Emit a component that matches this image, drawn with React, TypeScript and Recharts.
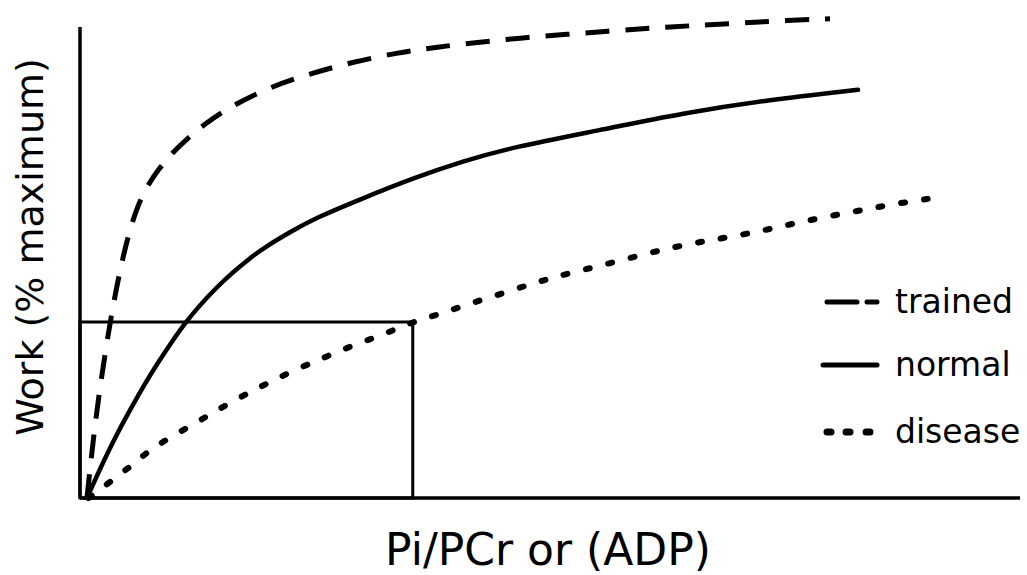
import { LineChart, Line, XAxis, YAxis, ReferenceArea, ReferenceLine, Legend, Label } from 'recharts';

// values: x in % of axis length, y in % of plot height
const trained = [
  { x: 0.74, y: 0 }, { x: 1.17, y: 7.8 }, { x: 1.6, y: 15 }, { x: 2.13, y: 22.8 },
  { x: 2.77, y: 30.9 }, { x: 3.4, y: 38.3 }, { x: 4.15, y: 45.9 }, { x: 5, y: 53.1 },
  { x: 5.96, y: 59.3 }, { x: 7.02, y: 63.8 }, { x: 8.3, y: 67.5 }, { x: 9.79, y: 71 },
  { x: 11.49, y: 74.1 }, { x: 13.3, y: 77 }, { x: 15.96, y: 80.5 }, { x: 20.21, y: 84.6 },
  { x: 24.79, y: 87.5 }, { x: 29.04, y: 89.7 }, { x: 33.72, y: 91.6 }, { x: 37.98, y: 92.8 },
  { x: 42.55, y: 93.8 }, { x: 47.13, y: 94.7 }, { x: 51.81, y: 95.4 }, { x: 56.38, y: 96.1 },
  { x: 60.96, y: 96.7 }, { x: 65.21, y: 97.2 }, { x: 69.89, y: 97.7 }, { x: 74.47, y: 98.2 },
  { x: 79.79, y: 98.6 },
];

const normal = [
  { x: 0.74, y: 0 }, { x: 2.13, y: 6 }, { x: 3.72, y: 12.4 }, { x: 5.32, y: 18.1 },
  { x: 6.91, y: 23.6 }, { x: 8.51, y: 28.5 }, { x: 9.79, y: 32.2 }, { x: 11.17, y: 36 },
  { x: 12.77, y: 39.7 }, { x: 14.36, y: 43 }, { x: 16.17, y: 46.3 }, { x: 18.09, y: 49.4 },
  { x: 19.89, y: 51.9 }, { x: 22.34, y: 54.7 }, { x: 24.79, y: 57.4 }, { x: 30.11, y: 61.7 },
  { x: 35.43, y: 65.8 }, { x: 40.74, y: 69.3 }, { x: 46.06, y: 72.2 }, { x: 55.32, y: 75.7 },
  { x: 64.15, y: 79.2 }, { x: 73.09, y: 81.9 }, { x: 82.77, y: 84 },
];

const disease = [
  { x: 0.9, y: 0 }, { x: 3.2, y: 3.3 }, { x: 5.3, y: 6.4 }, { x: 7.2, y: 9.5 },
  { x: 9.4, y: 12.3 }, { x: 11.9, y: 15 }, { x: 14.1, y: 17.5 }, { x: 16.5, y: 20.2 },
  { x: 18.9, y: 22.6 }, { x: 21.1, y: 24.7 }, { x: 23.6, y: 27 }, { x: 26.1, y: 29 },
  { x: 28.4, y: 30.9 }, { x: 30.9, y: 32.7 }, { x: 33.2, y: 34.4 }, { x: 35.4, y: 36.2 },
  { x: 38, y: 37.7 }, { x: 40.4, y: 39.3 }, { x: 45.4, y: 42.4 }, { x: 50, y: 45.3 },
  { x: 54.8, y: 47.5 }, { x: 62.4, y: 51.4 }, { x: 67.2, y: 53.1 }, { x: 72, y: 54.7 },
  { x: 76.6, y: 56.8 }, { x: 81.4, y: 58.6 }, { x: 86, y: 60.3 }, { x: 90.7, y: 61.7 },
];

// the box drawn up to where the disease curve meets it
const boxX = 35.4;
const boxY = 36.2;
const yAxisTop = 96.9;

const SERIES = [
  { name: 'trained', data: trained, width: 5, dash: '24 16', cap: 'butt' },
  { name: 'normal', data: normal, width: 4.5, dash: undefined, cap: 'round' },
  { name: 'disease', data: disease, width: 6, dash: '4 19', cap: 'round' },
];

const FONT = '"DejaVu Sans", sans-serif';

function SketchLegend() {
  return (
    <svg width={212} height={175} style={{ display: 'block' }}>
      <g stroke="#000" strokeLinecap="round">
        <line x1={12} y1={22} x2={42} y2={22} strokeWidth={5} />
        <line x1={52} y1={22} x2={62} y2={22} strokeWidth={5} />
        <line x1={8} y1={85} x2={62} y2={85} strokeWidth={5} />
        <line x1={12} y1={152} x2={16} y2={152} strokeWidth={7} />
        <line x1={31} y1={152} x2={35} y2={152} strokeWidth={7} />
        <line x1={51} y1={152} x2={55} y2={152} strokeWidth={7} />
      </g>
      {SERIES.map((s, i) => (
        <text key={s.name} x={80} y={[22, 85, 152][i] + 11} fontSize={33} fontFamily={FONT} fill="#000">
          {s.name}
        </text>
      ))}
    </svg>
  );
}

export default function App() {
  return (
    <div style={{ position: 'absolute', left: 0, top: 0, background: '#fff' }}>
      <LineChart width={1027} height={575} margin={{ top: 12, right: 7, bottom: 76, left: 79 }}>
        <XAxis
          type="number"
          dataKey="x"
          domain={[0, 100]}
          tick={false}
          tickLine={false}
          height={1}
          axisLine={{ stroke: '#000', strokeWidth: 3.5 }}
        >
          <Label
            content={() => (
              <text x={548} y={565} textAnchor="middle" fontSize={44} fontFamily={FONT} fill="#000">
                Pi/PCr or (ADP)
              </text>
            )}
          />
        </XAxis>
        <YAxis type="number" domain={[0, 100]} width={1} tick={false} tickLine={false} axisLine={false}>
          <Label
            content={() => (
              <text
                x={43}
                y={247}
                transform="rotate(-90, 43, 247)"
                textAnchor="middle"
                fontSize={38}
                fontFamily={FONT}
                fill="#000"
              >
                Work (% maximum)
              </text>
            )}
          />
        </YAxis>
        <ReferenceLine
          segment={[{ x: 0, y: 0 }, { x: 0, y: yAxisTop }]}
          stroke="#000"
          strokeWidth={3.5}
        />
        <ReferenceArea x1={0} x2={boxX} y1={0} y2={boxY} fill="none" stroke="#000" strokeWidth={3} />
        {SERIES.map((s) => (
          <Line
            key={s.name}
            data={s.data}
            dataKey="y"
            name={s.name}
            type="basis"
            stroke="#000"
            strokeWidth={s.width}
            strokeDasharray={s.dash}
            strokeLinecap={s.cap as 'round' | 'butt'}
            dot={false}
            activeDot={false}
            isAnimationActive={false}
          />
        ))}
        <Legend
          layout="horizontal"
          verticalAlign="middle"
          align="center"
          content={() => <SketchLegend />}
          wrapperStyle={{ left: 815, top: 280, width: 212, height: 175 }}
        />
      </LineChart>
    </div>
  );
}
